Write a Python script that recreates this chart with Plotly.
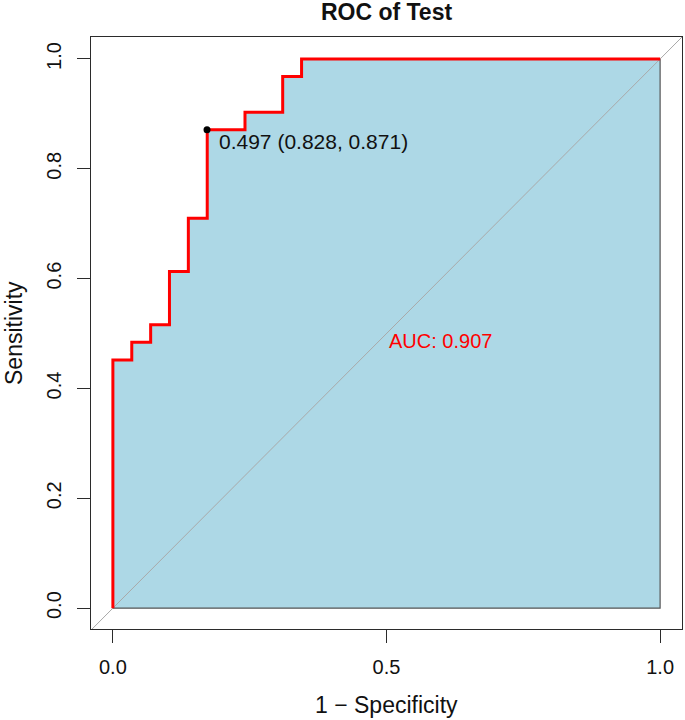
import plotly.graph_objects as go

# ROC curve corner points (1 - specificity, sensitivity)
fpr = [0.0, 0.0, 0.0345, 0.069, 0.1034, 0.1379, 0.1724, 0.2414, 0.3103, 0.3448, 1.0]
tpr = [0.0, 0.452, 0.484, 0.516, 0.613, 0.710, 0.871, 0.903, 0.968, 1.0, 1.0]

# best threshold
best_thr = 0.497
best_spec = 0.828
best_sens = 0.871
auc_value = 0.907

x_ticks = [0.0, 0.5, 1.0]
x_ticklabels = ["0.0", "0.5", "1.0"]
y_ticks = [0.0, 0.2, 0.4, 0.6, 0.8, 1.0]
y_ticklabels = ["0.0", "0.2", "0.4", "0.6", "0.8", "1.0"]

FONT = "Liberation Sans, Arial, Helvetica, sans-serif"
AX = "#2b2b2b"

fig = go.Figure()

# AUC polygon (filled area under the curve with grey border)
poly_x = fpr + [1.0, 0.0]
poly_y = tpr + [0.0, 0.0]
fig.add_trace(go.Scatter(
    x=poly_x, y=poly_y, mode="lines", line_shape="hv",
    fill="toself", fillcolor="#ADD8E6",
    line=dict(color="#555555", width=1.2),
    hoverinfo="skip", showlegend=False))

# identity line
fig.add_trace(go.Scatter(
    x=[-0.04, 1.04], y=[-0.04, 1.04], mode="lines",
    line=dict(color="#A9A9A9", width=1),
    hoverinfo="skip", showlegend=False))

# ROC curve
fig.add_trace(go.Scatter(
    x=fpr, y=tpr, mode="lines", line_shape="hv",
    line=dict(color="#FF0000", width=3),
    showlegend=False))

# best threshold point
fig.add_trace(go.Scatter(
    x=[1 - best_spec], y=[best_sens], mode="markers",
    marker=dict(color="black", size=7),
    showlegend=False))

fig.add_annotation(
    x=1 - best_spec + 0.018, y=best_sens - 0.021, xref="x", yref="y",
    text=f"{best_thr:.3f} ({best_spec:.3f}, {best_sens:.3f})",
    showarrow=False, xanchor="left", yanchor="middle",
    font=dict(family=FONT, size=21, color="#111111"))

fig.add_annotation(
    x=0.5, y=0.486, xref="x", yref="y",
    text=f"AUC: {auc_value:.3f}",
    showarrow=False, xanchor="left", yanchor="middle",
    font=dict(family=FONT, size=20, color="#FF0000"))

# axis titles
fig.add_annotation(
    x=0.5, y=(629 - 705) / 592, xref="paper", yref="paper",
    text="1 \u2212 Specificity", showarrow=False,
    xanchor="center", yanchor="middle",
    font=dict(family=FONT, size=23, color="#111111"))
fig.add_annotation(
    x=(14 - 91) / 591, y=0.5, xref="paper", yref="paper",
    text="Sensitivity", showarrow=False, textangle=-90,
    xanchor="center", yanchor="middle",
    font=dict(family=FONT, size=23, color="#111111"))

fig.update_layout(
    width=685, height=720,
    margin=dict(l=91, r=3, t=37, b=91, autoexpand=False),
    paper_bgcolor="white", plot_bgcolor="white",
    font=dict(family=FONT, color="#111111"),
    title=dict(text="<b>ROC of Test</b>", x=(91 + 682) / 2 / 685, xanchor="center",
               y=1 - 12 / 720, yanchor="middle",
               font=dict(family=FONT, size=23, color="#111111")),
    xaxis=dict(range=[-0.04, 1.04], tickvals=x_ticks, ticktext=x_ticklabels,
               ticks="outside", ticklen=13, tickcolor=AX, tickwidth=1.3,
               showline=True, mirror=True, linecolor=AX, linewidth=1.3,
               showgrid=False, zeroline=False, automargin=False,
               ticklabelstandoff=7,
               tickfont=dict(family=FONT, size=20, color="#111111")),
    yaxis=dict(range=[-0.038, 1.04], tickvals=y_ticks, ticktext=y_ticklabels,
               ticks="outside", ticklen=13, tickcolor=AX, tickwidth=1.3,
               showline=True, mirror=True, linecolor=AX, linewidth=1.3,
               showgrid=False, zeroline=False, tickangle=-90, automargin=False,
               ticklabelstandoff=8,
               tickfont=dict(family=FONT, size=20, color="#111111")),
)

fig.write_html("out.html", config={"displayModeBar": False},
               post_script="document.body.style.margin='0';")
